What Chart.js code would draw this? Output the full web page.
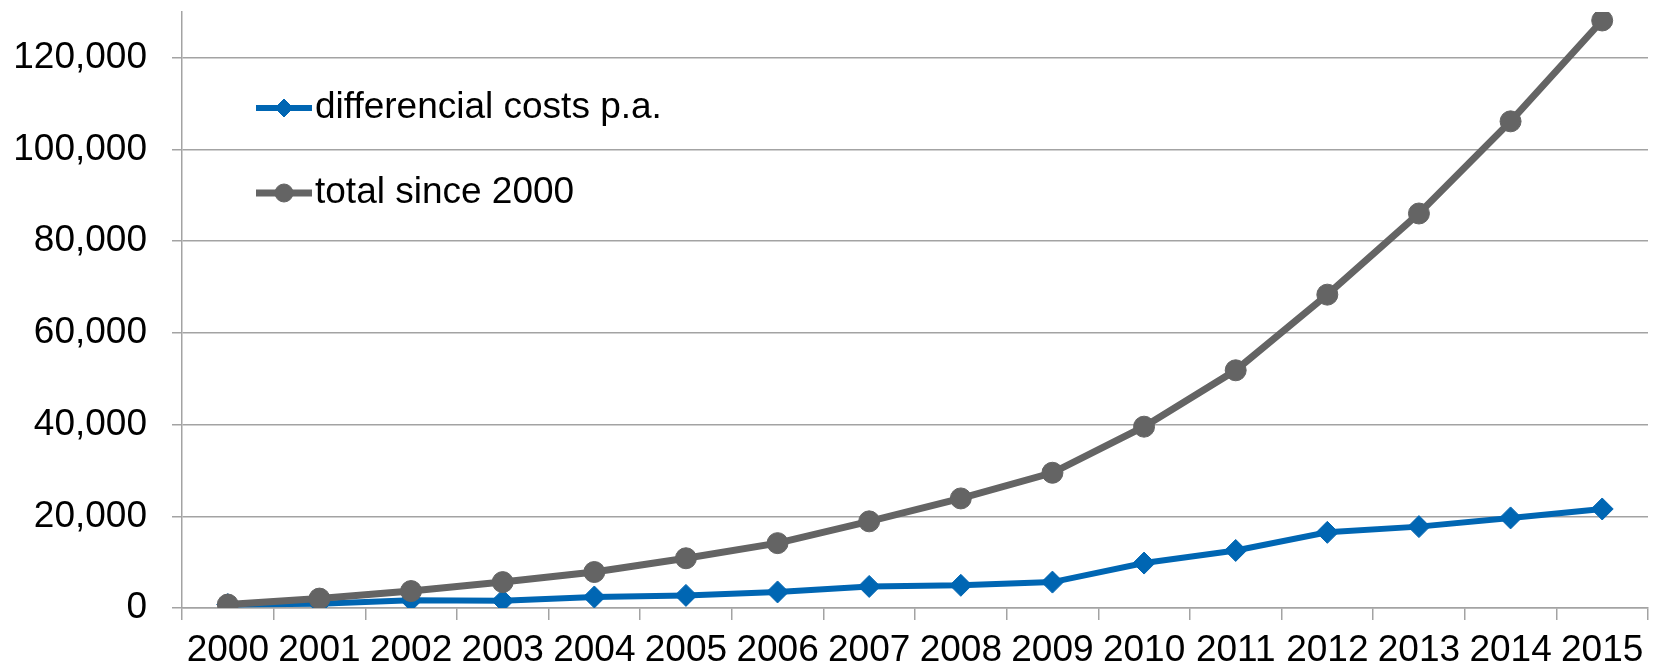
<!DOCTYPE html>
<html>
<head>
<meta charset="utf-8">
<title>differencial costs</title>
<script src="https://cdn.jsdelivr.net/npm/chart.js@4"></script>
<style>
  body { margin: 0; background: #fff; }
  #wrap { width: 1660px; height: 667px; }
</style>
</head>
<body>
<div id="wrap"><canvas id="costChart" width="1660" height="667"></canvas></div>
<script>
const years = ["2000", "2001", "2002", "2003", "2004", "2005", "2006", "2007",
               "2008", "2009", "2010", "2011", "2012", "2013", "2014", "2015"];
const costsPerYear = [750, 950, 1700, 1600, 2400, 2750, 3500, 4700,
                      4950, 5650, 9800, 12550, 16500, 17750, 19650, 21600];
const totalSince2000 = [750, 2050, 3700, 5650, 7850, 10850, 14150, 18900,
                        23900, 29500, 39550, 51850, 68350, 86050, 106150, 128150];
const yTicks = [0, 20000, 40000, 60000, 80000, 100000, 120000];
const yMax = 130000;

const FONT = '"Liberation Sans", Arial, sans-serif';
const FONT_SIZE = 37;
const BLUE = "#0066b3";
const GREY = "#646464";
const GRID = "#a3a3a3";

// legend drawn inside the plot, top left
const insideLegend = {
    id: "insideLegend",
    afterDraw(chart) {
        const ctx = chart.ctx;
        const rows = [108, 193];
        chart.data.datasets.forEach((ds, i) => {
            const y = rows[i];
            ctx.save();
            ctx.strokeStyle = ds.borderColor;
            ctx.lineWidth = ds.borderWidth;
            ctx.beginPath();
            ctx.moveTo(256, y);
            ctx.lineTo(312, y);
            ctx.stroke();
            ctx.fillStyle = ds.pointBackgroundColor;
            ctx.strokeStyle = ds.pointBackgroundColor;
            ctx.lineWidth = 1;
            Chart.helpers.drawPoint(ctx, {
                pointStyle: ds.pointStyle,
                radius: 9,
                rotation: 0,
                borderWidth: 1,
            }, 284, y);
            ctx.fillStyle = "#000";
            ctx.font = FONT_SIZE + "px " + FONT;
            ctx.textBaseline = "middle";
            ctx.textAlign = "left";
            ctx.fillText(ds.label, 315, y);
            ctx.restore();
        });
    },
};

new Chart(document.getElementById("costChart"), {
    type: "line",
    data: {
        labels: years,
        datasets: [
            {
                label: "differencial costs p.a.",
                data: costsPerYear,
                borderColor: BLUE,
                backgroundColor: BLUE,
                pointBackgroundColor: BLUE,
                pointBorderColor: BLUE,
                borderWidth: 6,
                pointStyle: "rectRot",
                pointRadius: 11,
                pointBorderWidth: 1,
                tension: 0,
                order: 1,
            },
            {
                label: "total since 2000",
                data: totalSince2000,
                borderColor: GREY,
                backgroundColor: GREY,
                pointBackgroundColor: GREY,
                pointBorderColor: GREY,
                borderWidth: 7,
                pointStyle: "circle",
                pointRadius: 10.5,
                pointBorderWidth: 1,
                tension: 0,
                order: 0,
            },
        ],
    },
    options: {
        responsive: false,
        animation: false,
        layout: { padding: { top: 10, right: 5, left: 0, bottom: 0 } },
        plugins: {
            legend: { display: false },
            tooltip: { enabled: false },
        },
        scales: {
            x: {
                offset: true,
                grid: {
                    offset: true,
                    drawOnChartArea: false,
                    drawTicks: true,
                    tickLength: 12,
                    color: GRID,
                    lineWidth: 1.5,
                },
                border: { color: GRID, width: 1.5 },
                ticks: {
                    font: { family: FONT, size: FONT_SIZE },
                    color: "#000",
                    padding: 9,
                    maxRotation: 0,
                    autoSkip: false,
                },
                afterFit(scale) {
                    scale.height = 59;
                    scale.paddingLeft = 0;
                    scale.paddingRight = 0;
                },
            },
            y: {
                min: 0,
                max: yMax,
                grid: {
                    color: GRID,
                    lineWidth: 1.5,
                    tickLength: 10,
                },
                border: { color: GRID, width: 1.5 },
                ticks: {
                    autoSkip: false,
                    font: { family: FONT, size: FONT_SIZE },
                    color: "#000",
                    padding: 25,
                    callback: (v) => v.toLocaleString("en-US"),
                },
                afterBuildTicks(scale) {
                    scale.ticks = yTicks.map((v) => ({ value: v }));
                },
                afterFit(scale) {
                    scale.width = 182;
                    scale.paddingTop = 0;
                    scale.paddingBottom = 0;
                },
            },
        },
    },
    plugins: [insideLegend],
});
</script>
</body>
</html>
